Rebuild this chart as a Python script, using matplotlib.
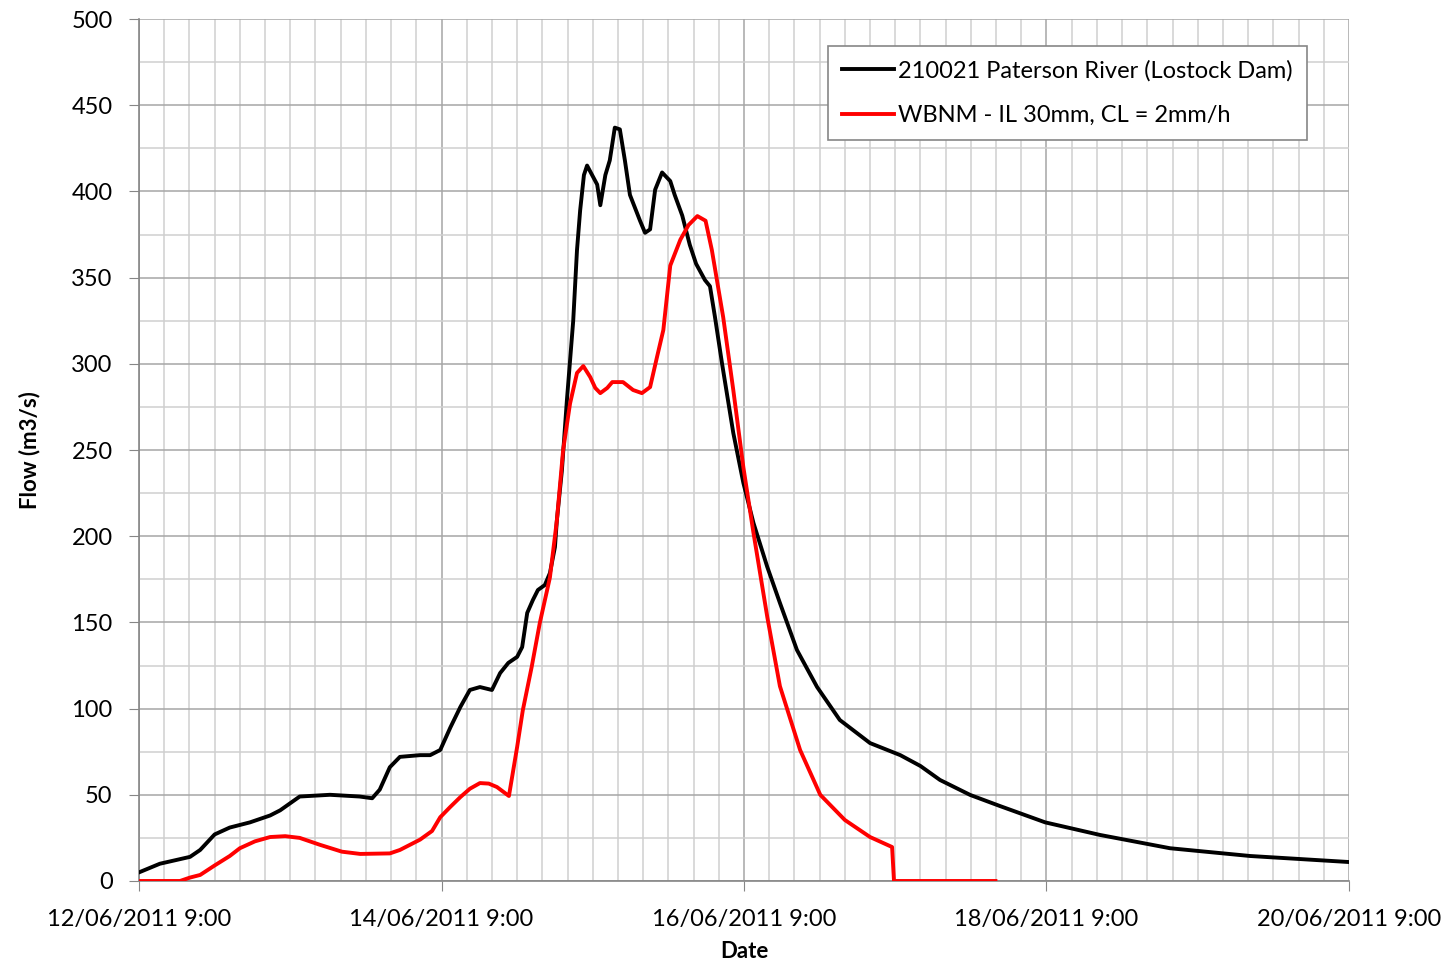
import pandas as pd
import matplotlib.pyplot as plt
import matplotlib.dates as mdates
from matplotlib.ticker import MultipleLocator, FuncFormatter

plt.rcParams['font.family'] = ['Lato', 'DejaVu Sans']

start = pd.Timestamp('2011-06-12 09:00')

# hours after start, flow in m3/s
obs_hours = [0, 3.3, 5.7, 8.1, 9.7, 12, 14.4, 17.6, 20.8, 22.4, 25.5, 30.3, 35, 37, 38.2,
             39.8, 41.4, 44.6, 46.2, 47.8, 49.4, 51, 52.5, 54.1, 56, 57.3, 58.6, 60, 60.8,
             61.6, 62.5, 63.3, 64.4, 65.2, 66, 66.3, 67.1, 67.9, 68.9, 69.5, 70, 70.6, 71.1,
             71.9, 72.7, 73.2, 74, 74.7, 75.5, 76.3, 77.1, 77.9, 79.5, 80.3, 81.1, 81.9,
             83, 84.3, 85, 86.2, 87.4, 88.4, 89.8, 90.6, 91.4, 92.5, 94.3, 95.9, 97.5,
             99.7, 101.7, 104.4, 107.6, 111.2, 116, 120.8, 124, 127.1, 131.9, 136.6, 143.8,
             152.5, 163.6, 176.3, 192]
obs_flow = [5, 10, 12, 14, 18, 27, 31, 34, 38, 41, 49, 50, 49, 48, 53,
            66, 72, 73, 73, 76, 89, 101, 110.8, 112.5, 110.8, 120.6, 126.5, 130, 135.7,
            155.5, 163, 168.8, 171.7, 178.6, 193.7, 209, 238, 279, 325, 366, 389, 409.5, 415,
            409.5, 404, 392, 409.5, 418, 437, 436, 418, 398, 383, 376, 378, 401,
            411, 406, 398, 386, 369, 358, 348.6, 345, 327, 300.5, 259.9, 230.9, 207.7,
            182.1, 161.3, 134, 112.5, 93.4, 80, 73, 66.7, 58.6, 49.9, 43.5, 34,
            26.7, 19, 14.5, 11]

sim_hours = [0, 6.5, 8.1, 9.7, 12, 14.4, 16, 18.4, 20.8, 23.2, 25.5, 28.7, 32.2, 35.1,
             39.8, 41.4, 44.6, 46.5, 47.8, 49.4, 51, 52.5, 54.1, 55.5, 56.8, 58.7, 60,
             60.9, 62.3, 63.6, 65.2, 66.3, 67.3, 68.4, 69.5, 70.5, 71.6, 72.4, 73.2,
             74.3, 75.1, 76.8, 78.4, 79.8, 81.1, 82.2, 83.2, 84.3, 85.9, 87.2, 88.6,
             89.9, 90.9, 92.7, 94.3, 95.9, 97.5, 99.7, 101.7, 104.9, 108.1, 112, 116,
             119.5, 119.8, 135.9]
sim_flow = [0, 0, 2, 3.5, 9, 14.5, 19, 23, 25.5, 26, 25, 21, 17, 15.7,
            16, 18, 24, 29, 37, 43, 48.7, 53.5, 56.8, 56.5, 54.5, 49.3, 77.7,
            99, 124, 149.7, 176, 209, 250, 277, 294.7, 298.7, 292.3, 286, 283,
            286, 289.4, 289.4, 284.8, 283, 286.5, 304, 319.6, 357, 372, 380.5, 385.7,
            383, 366, 327, 284.8, 240, 202, 153, 113, 76, 50, 35.4, 25.5,
            19.7, 0, 0]

obs_t = start + pd.to_timedelta(obs_hours, unit='h')
sim_t = start + pd.to_timedelta(sim_hours, unit='h')

fig = plt.figure(figsize=(14.42, 9.66), dpi=100)
ax = fig.add_axes([0.0964, 0.088, 0.8391, 0.8923])

ax.plot(obs_t, obs_flow, color='black', lw=2.8, label='210021 Paterson River (Lostock Dam)',
        zorder=3, solid_joinstyle='round')
ax.plot(sim_t, sim_flow, color='#ff0000', lw=2.8, label='WBNM - IL 30mm, CL = 2mm/h',
        zorder=3, solid_joinstyle='round')

ax.set_xlim(start, start + pd.Timedelta(days=8))
ax.set_ylim(0, 500)

# labelled ticks every two days, grid every four hours
ticks = [start + pd.Timedelta(days=d) for d in range(0, 9, 2)]
ax.set_xticks(ticks)
ax.xaxis.set_major_formatter(FuncFormatter(
    lambda v, p: (lambda d: f"{d.day:02d}/{d.month:02d}/{d.year} {d.hour}:{d.minute:02d}")(mdates.num2date(v))))
minor = [start + pd.Timedelta(hours=4 * i) for i in range(49)]
ax.set_xticks(minor, minor=True)

ax.yaxis.set_major_locator(MultipleLocator(50))
ax.yaxis.set_minor_locator(MultipleLocator(25))

ax.grid(which='major', color='#a6a6a6', lw=1.1)
ax.grid(which='minor', color='#cfcfcf', lw=1.1)
ax.set_axisbelow(True)

for s in ax.spines.values():
    s.set_color('#868686')
    s.set_linewidth(1.2)
ax.spines['top'].set_visible(False)
ax.spines['right'].set_visible(False)

ax.tick_params(which='major', length=7, color='#868686', labelsize=17)
ax.tick_params(axis='x', pad=13)
ax.tick_params(axis='y', pad=12)
ax.tick_params(which='minor', length=0)

ax.set_xlabel('Date', fontsize=16, fontweight='bold', labelpad=8)
ax.set_ylabel('Flow (m3/s)', fontsize=16, fontweight='bold', labelpad=22)

leg = ax.legend(loc='upper right', bbox_to_anchor=(0.965, 0.969), borderaxespad=0,
                fontsize=17, frameon=True, fancybox=False, handlelength=2.2,
                handletextpad=0.15, borderpad=0.6, labelspacing=1.0)
leg.get_frame().set_edgecolor('#868686')
leg.get_frame().set_linewidth(1.2)
leg.get_frame().set_alpha(1)

fig.savefig('out.png', dpi=100)
